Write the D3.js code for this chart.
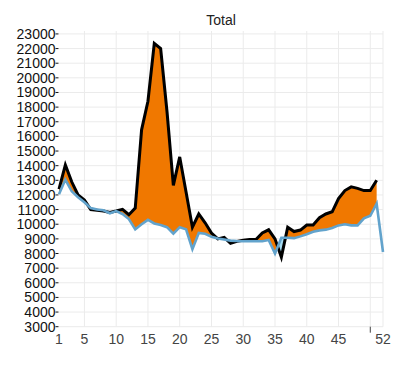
<!DOCTYPE html>
<html lang="en">
<head>
    <meta charset="UTF-8">
    <title>Total</title>
    <style>
        body, html {
            margin: 0;
            padding: 0;
            background: #ffffff;
            font-family: "Liberation Sans", Arial, sans-serif;
            overflow: hidden;
        }

        .grid line {
            stroke: #ebebeb;
            stroke-width: 1px;
        }

        .title {
            font-size: 14px;
            fill: #222;
            text-anchor: middle;
        }

        .ylab {
            font-size: 14px;
            fill: #111;
            text-anchor: end;
            dominant-baseline: central;
        }

        .xlab {
            font-size: 14px;
            fill: #444;
            text-anchor: middle;
        }
    </style>
</head>
<body>
    <div id="chart"></div>

    <script src="https://d3js.org/d3.v7.min.js"></script>

    <script>
        // weeks 1..52
        const weeks = d3.range(1, 53);

        // total (black line), no value for week 52
        const total = [12400, 14050, 12900, 12000, 11650, 11000, 10950, 10900, 10800, 10900,
                       11020, 10650, 11100, 16450, 18400, 22350, 22000, 17700, 12650, 14600,
                       12200, 9800, 10700, 10100, 9400, 9000, 9100, 8700, 8830, 8900,
                       8950, 8950, 9400, 9620, 9000, 7750, 9800, 9500, 9600, 9950,
                       9950, 10450, 10700, 10850, 11750, 12300, 12550, 12450, 12300, 12300,
                       13000, null];

        // baseline (blue line)
        const baseline = [12050, 13050, 12250, 11850, 11500, 11100, 11000, 10950, 10750, 10900,
                          10700, 10350, 9650, 10000, 10300, 10050, 9950, 9800, 9350, 9800,
                          9650, 8300, 9400, 9350, 9150, 9030, 8960, 8880, 8850, 8840,
                          8840, 8840, 8840, 8920, 8000, 9080, 9080, 9050, 9170, 9320,
                          9480, 9580, 9630, 9740, 9920, 10000, 9920, 9920, 10400, 10580,
                          11400, 8100];

        const xTicks = [1, 5, 10, 15, 20, 25, 30, 35, 40, 45, 50, 52];
        const xTickLabels = ['1', '5', '10', '15', '20', '25', '30', '35', '40', '45', '', '52'];
        const yTicks = d3.range(3000, 23001, 1000);

        const width = 400, height = 382;
        const plot = { left: 59, right: 383, top: 31, bottom: 326.7 };

        const svg = d3.select('#chart').append('svg')
            .attr('width', width)
            .attr('height', height);

        const x = d3.scaleLinear().domain([1, 52]).range([plot.left, plot.right]);
        const y = d3.scaleLinear().domain([3000, 23200]).range([plot.bottom, plot.top]);

        // grid
        const grid = svg.append('g').attr('class', 'grid');
        grid.selectAll('line.h')
            .data(yTicks)
            .enter().append('line')
            .attr('x1', plot.left).attr('x2', plot.right)
            .attr('y1', d => y(d)).attr('y2', d => y(d));
        grid.selectAll('line.v')
            .data(xTicks.filter(d => d > 1))
            .enter().append('line')
            .attr('x1', d => x(d)).attr('x2', d => x(d))
            .attr('y1', plot.top).attr('y2', plot.bottom);

        const pts = weeks.map((w, i) => ({ w: w, t: total[i], b: baseline[i] }));

        // clip regions above / below the baseline
        const defs = svg.append('defs');
        defs.append('clipPath').attr('id', 'above')
            .append('path')
            .attr('d', d3.area().x(d => x(d.w)).y0(0).y1(d => y(d.b))(pts));
        defs.append('clipPath').attr('id', 'below')
            .append('path')
            .attr('d', d3.area().x(d => x(d.w)).y0(height).y1(d => y(d.b))(pts));

        const between = d3.area()
            .defined(d => d.t !== null)
            .x(d => x(d.w))
            .y0(d => y(d.b))
            .y1(d => y(d.t));

        svg.append('path')
            .attr('d', between(pts))
            .attr('fill', '#f07800')
            .attr('clip-path', 'url(#above)');
        svg.append('path')
            .attr('d', between(pts))
            .attr('fill', '#a6dcf2')
            .attr('clip-path', 'url(#below)');

        // lines
        svg.append('path')
            .attr('d', d3.line().defined(d => d.t !== null).x(d => x(d.w)).y(d => y(d.t))(pts))
            .attr('fill', 'none')
            .attr('stroke', '#000')
            .attr('stroke-width', 3)
            .attr('stroke-linejoin', 'miter');

        svg.append('path')
            .attr('d', d3.line().x(d => x(d.w)).y(d => y(d.b))(pts))
            .attr('fill', 'none')
            .attr('stroke', '#62a3cc')
            .attr('stroke-width', 2.6);

        // y axis labels + small ticks
        svg.selectAll('text.ylab')
            .data(yTicks)
            .enter().append('text')
            .attr('class', 'ylab')
            .attr('x', 55.5)
            .attr('y', d => y(d))
            .text(d => d);
        svg.selectAll('line.ytick')
            .data(yTicks)
            .enter().append('line')
            .attr('x1', 55.5).attr('x2', 58.5)
            .attr('y1', d => y(d)).attr('y2', d => y(d))
            .attr('stroke', '#111').attr('stroke-width', 1);

        // x axis labels
        svg.selectAll('text.xlab')
            .data(xTicks)
            .enter().append('text')
            .attr('class', 'xlab')
            .attr('x', d => x(d))
            .attr('y', 343.5)
            .text((d, i) => xTickLabels[i]);
        svg.append('line')
            .attr('x1', x(50)).attr('x2', x(50))
            .attr('y1', plot.bottom).attr('y2', plot.bottom + 6)
            .attr('stroke', '#444').attr('stroke-width', 1);

        svg.append('text')
            .attr('class', 'title')
            .attr('x', (plot.left + plot.right) / 2)
            .attr('y', 25)
            .text('Total');
    </script>
</body>
</html>
